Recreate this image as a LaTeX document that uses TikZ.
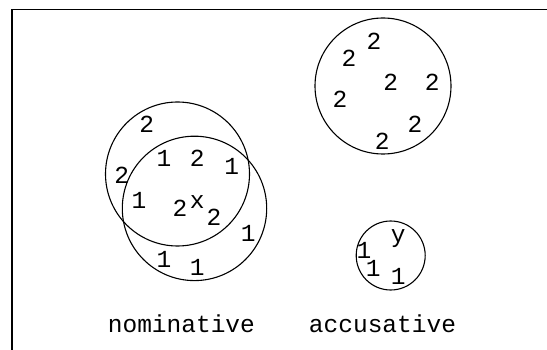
\documentclass[tikz,border=0pt]{standalone}
\usepackage{fontspec}
\setmonofont{Liberation Mono}
\begin{document}
\begin{tikzpicture}[x=1pt,y=-1pt,
  ring/.style={line width=1.1pt},
  framebox/.style={line width=1.2pt},
  lbl/.style={font=\ttfamily\fontsize{24.5}{26}\selectfont, inner sep=0pt, anchor=center},
  caption/.style={font=\ttfamily\fontsize{24.5}{26}\selectfont, inner sep=0pt, anchor=base}]
\useasboundingbox (0,0) rectangle (547,350);
\draw[framebox] (12,351) -- (12,9.5) -- (548,9.5);
% circles
\draw[ring] (177.5,174) circle[radius=72];
\draw[ring] (194.5,208.4) circle[radius=72.2];
\draw[ring] (383,86) circle[radius=68];
\draw[ring] (390.7,255.5) circle[radius=34.5];
% nominative sets
\node[lbl] (n1) at (146.7,124.3) {2};
\node[lbl] (n2) at (121.7,175) {2};
\node[lbl] (n3) at (164,158.3) {1};
\node[lbl] (n4) at (197.3,158.3) {2};
\node[lbl] (n5) at (231.7,166.7) {1};
\node[lbl] (n6) at (139,200) {1};
\node[lbl] (n7) at (180,208.3) {2};
\node[lbl] (nx) at (197.3,201.7) {x};
\node[lbl] (n8) at (214,217.7) {2};
\node[lbl] (n9) at (248.3,233.3) {1};
\node[lbl] (n10) at (164,259.3) {1};
\node[lbl] (n11) at (197.3,267.7) {1};
% accusative big
\node[lbl] (a1) at (374,41.7) {2};
\node[lbl] (a2) at (349,58.3) {2};
\node[lbl] (a3) at (390.7,82.7) {2};
\node[lbl] (a4) at (432.3,82.7) {2};
\node[lbl] (a5) at (340,99) {2};
\node[lbl] (a6) at (415,124.3) {2};
\node[lbl] (a7) at (382.3,141.7) {2};
% accusative small
\node[lbl] (ay) at (398.3,238.3) {y};
\node[lbl] (b1) at (364,250) {1};
\node[lbl] (b2) at (373.3,268.3) {1};
\node[lbl] (b3) at (398.3,276.7) {1};
% captions
\node[caption] (nom) at (181.4,333) {nominative};
\node[caption] (acc) at (382.5,333) {accusative};
\end{tikzpicture}
\end{document}
